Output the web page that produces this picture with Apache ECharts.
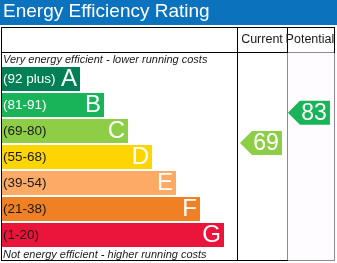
<!DOCTYPE html>
<html>
<head>
<meta charset="utf-8">
<script src="https://cdn.jsdelivr.net/npm/echarts@6/dist/echarts.min.js"></script>
<style>
  html, body { margin: 0; padding: 0; background: #fff; }
  #chart { width: 337px; height: 263px; }
</style>
</head>
<body>
<div id="chart"></div>
<script>
// rating bands, top (best) to bottom
const bands = ['A', 'B', 'C', 'D', 'E', 'F', 'G']
const ranges = ['(92 plus)', '(81-91)', '(69-80)', '(55-68)', '(39-54)', '(21-38)', '(1-20)']
const bandMin = [92, 81, 69, 55, 39, 21, 1]
const bandMax = [100, 91, 80, 68, 54, 38, 20]
const barLength = [3.25, 4.25, 5.25, 6.25, 7.25, 8.25, 9.25]
const bandColors = ['#008054', '#19b459', '#8dce46', '#ffd500', '#fcaa65', '#ef8023', '#e9153b']
const rangeTextColors = ['#fff', '#fff', '#1a1a1a', '#1a1a1a', '#1a1a1a', '#1a1a1a', '#1a1a1a']
// current / potential ratings
const ratingCols = ['Current', 'Potential']
const ratings = [69, 83]

const FONT = "'Liberation Sans', Arial, sans-serif"
const BAR_H = 24

function bandOf(v) {
  for (let i = 0; i < bands.length; i++) {
    if (v >= bandMin[i] && v <= bandMax[i]) return i
  }
  return bands.length - 1
}

const chart = echarts.init(document.getElementById('chart'), null, { renderer: 'canvas' })

chart.setOption({
  animation: false,
  title: {
    text: 'Energy Efficiency Rating',
    left: 3,
    top: 2,
    padding: 0,
    textStyle: { color: '#fff', fontSize: 19, fontWeight: 'normal', fontFamily: FONT }
  },
  grid: [
    { left: 2, top: 66, width: 240, height: 182 },
    { left: 238, top: 66, width: 97, height: 182 }
  ],
  xAxis: [
    { gridIndex: 0, type: 'value', min: 0, max: 10, show: false },
    {
      gridIndex: 1, type: 'category', data: ratingCols, position: 'top', offset: 14,
      axisLine: { show: false }, axisTick: { show: false },
      axisLabel: { interval: 0, margin: 6, color: '#1a1a1a', fontSize: 12.5, fontFamily: FONT }
    }
  ],
  yAxis: [
    { gridIndex: 0, type: 'category', data: bands, inverse: true, show: false },
    { gridIndex: 1, type: 'category', data: bands, inverse: true, show: false }
  ],
  series: [
    {
      type: 'bar',
      xAxisIndex: 0, yAxisIndex: 0,
      barWidth: BAR_H,
      data: barLength.map((v, i) => ({
        value: v,
        itemStyle: { color: bandColors[i] },
        label: { color: rangeTextColors[i] }
      })),
      label: {
        show: true, position: 'insideLeft', distance: 1,
        fontSize: 13.5, fontFamily: FONT,
        formatter: p => ranges[p.dataIndex]
      },
      z: 2
    },
    {
      type: 'bar',
      xAxisIndex: 0, yAxisIndex: 0,
      barWidth: BAR_H,
      barGap: '-100%',
      data: barLength,
      itemStyle: { color: 'rgba(0,0,0,0)' },
      label: {
        show: true, position: 'insideRight', distance: 3,
        color: '#fff', fontSize: 24, fontFamily: FONT,
        formatter: p => bands[p.dataIndex]
      },
      z: 3
    },
    {
      // arrows for current / potential
      type: 'custom',
      xAxisIndex: 1, yAxisIndex: 1,
      data: ratings.map((v, i) => [i, bandOf(v), v]),
      encode: { x: 0, y: 1 },
      renderItem: function (params, api) {
        const b = api.value(1)
        const v = api.value(2)
        const p = api.coord([api.value(0), b])
        const colW = api.size([1, 0])[0]
        const frac = (v - bandMin[b]) / (bandMax[b] - bandMin[b] + 1)
        const cy = p[1] + BAR_H / 2 - frac * BAR_H
        const x0 = p[0] - colW / 2 + 2
        const x1 = p[0] + colW / 2 - 4
        const tip = 12
        return {
          type: 'group',
          children: [
            {
              type: 'polygon',
              shape: {
                points: [
                  [x0, cy], [x0 + tip, cy - BAR_H / 2], [x1, cy - BAR_H / 2],
                  [x1, cy + BAR_H / 2], [x0 + tip, cy + BAR_H / 2]
                ]
              },
              style: { fill: bandColors[b] }
            },
            {
              type: 'text',
              style: {
                text: String(v),
                x: (x0 + tip + x1) / 2 - 1, y: cy + 1,
                align: 'center', verticalAlign: 'middle',
                fill: '#fff', fontSize: 23, fontFamily: FONT
              }
            }
          ]
        }
      },
      z: 5
    }
  ],
  graphic: [
    { type: 'rect', shape: { x: 0, y: 0, width: 337, height: 25 }, style: { fill: '#0b72bd' }, z: -1 },
    // table lines
    { type: 'line', shape: { x1: 1, y1: 27.5, x2: 335, y2: 27.5 }, style: { stroke: '#000', lineWidth: 1 } },
    { type: 'line', shape: { x1: 1, y1: 52.5, x2: 288, y2: 52.5 }, style: { stroke: '#000', lineWidth: 1 } },
    { type: 'line', shape: { x1: 1.5, y1: 27, x2: 1.5, y2: 261 }, style: { stroke: '#000', lineWidth: 1 } },
    { type: 'line', shape: { x1: 1, y1: 260.5, x2: 288, y2: 260.5 }, style: { stroke: '#000', lineWidth: 1 } },
    { type: 'line', shape: { x1: 237.5, y1: 27, x2: 237.5, y2: 261 }, style: { stroke: '#000', lineWidth: 1 } },
    { type: 'line', shape: { x1: 287.5, y1: 27, x2: 287.5, y2: 53 }, style: { stroke: '#000', lineWidth: 1 } },
    { type: 'line', shape: { x1: 334.5, y1: 27, x2: 334.5, y2: 53 }, style: { stroke: '#000', lineWidth: 1 } },
    {
      type: 'rect', shape: { x: 287.5, y: 52.5, width: 47, height: 208 },
      style: { fill: '#fefcfe', stroke: '#2a0f2a', lineWidth: 1, lineDash: [1, 1] }, z: -1
    },
    {
      type: 'text', left: 3, top: 54,
      style: { text: 'Very energy efficient - lower running costs', fontSize: 11, fontStyle: 'italic', fontFamily: FONT, fill: '#1a1a1a' }
    },
    {
      type: 'text', left: 3, top: 249,
      style: { text: 'Not energy efficient - higher running costs', fontSize: 11, fontStyle: 'italic', fontFamily: FONT, fill: '#1a1a1a' }
    }
  ]
})
</script>
</body>
</html>
